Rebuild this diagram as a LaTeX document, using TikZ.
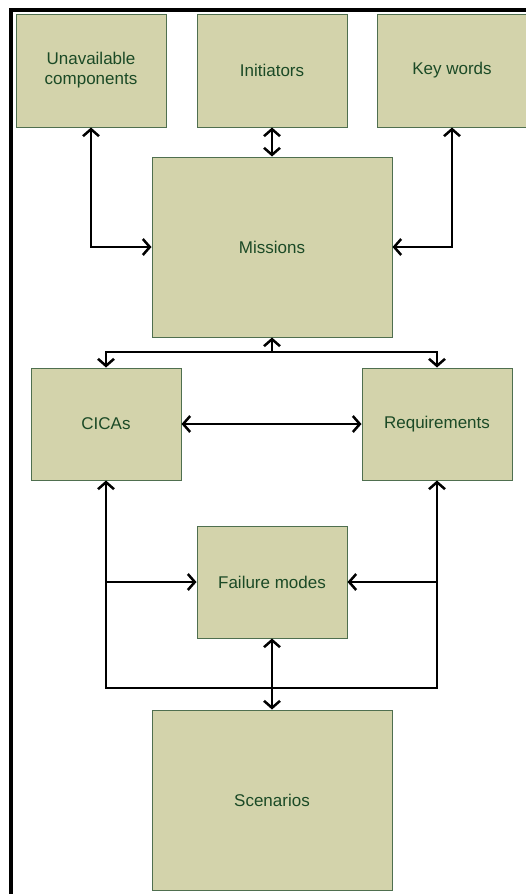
\documentclass[tikz,border=0pt]{standalone}
\usepackage{fontspec}
\setmainfont{Liberation Sans}
\usetikzlibrary{arrows.meta}
\definecolor{boxfill}{HTML}{D3D3AB}
\definecolor{boxline}{HTML}{4F6F4F}
\definecolor{boxtext}{HTML}{1B4A26}
\begin{document}
\begin{tikzpicture}[x=1pt,y=-1pt,
  blk/.style={draw=boxline, line width=1pt, fill=boxfill, text=boxtext,
    font=\fontsize{17}{20}\selectfont, align=center, inner sep=0pt},
  small/.style={blk, minimum width=150pt, minimum height=113pt},
  large/.style={blk, minimum width=240pt, minimum height=180pt},
  barb/.tip={Straight Barb[length=7pt,width=16pt]},
  wire/.style={line width=2.5pt, black},
  both/.style={wire, barb-barb},
  into/.style={wire, -barb}]
\useasboundingbox (0,0) rectangle (526,894);
% outer frame, open on the right and at the bottom
\draw[line width=4.5pt] (11,894) -- (11,10) -- (526,10);

% boxes
\node[small] (unav) at (91,70.5)  {Unavailable\\components};
\node[small] (init) at (272,70.5) {Initiators};
\node[small] (keyw) at (452,70.5) {Key words};
\node[large] (miss) at (272,247)  {Missions};
\node[small, minimum height=112pt] (cica) at (106,424) {CICAs};
\node[small, minimum height=112pt] (req)  at (437,424) {Requirements};
\node[small, minimum height=112pt] (fail) at (272,582) {Failure modes};
\node[large] (scen) at (272,800)  {Scenarios};

% junction points of the branching connectors
\coordinate (mj) at (272,352);
\coordinate (bl) at (106,688);
\coordinate (br) at (437,688);

% connectors
\draw[both] (unav.south) |- (miss.west);
\draw[both] (init.south) -- (miss.north);
\draw[both] (keyw.south) |- (miss.east);

\draw[into] (mj) -- (miss.south);
\draw[into] (mj) -| (cica.north);
\draw[into] (mj) -| (req.north);

\draw[both] (cica.east) -- (req.west);

\draw[both] (cica.south) -- (bl) -- (br) -- (req.south);
\draw[into] (cica.south |- fail.west) -- (fail.west);
\draw[into] (req.south |- fail.east) -- (fail.east);
\draw[both] (fail.south) -- (scen.north);
\end{tikzpicture}
\end{document}
